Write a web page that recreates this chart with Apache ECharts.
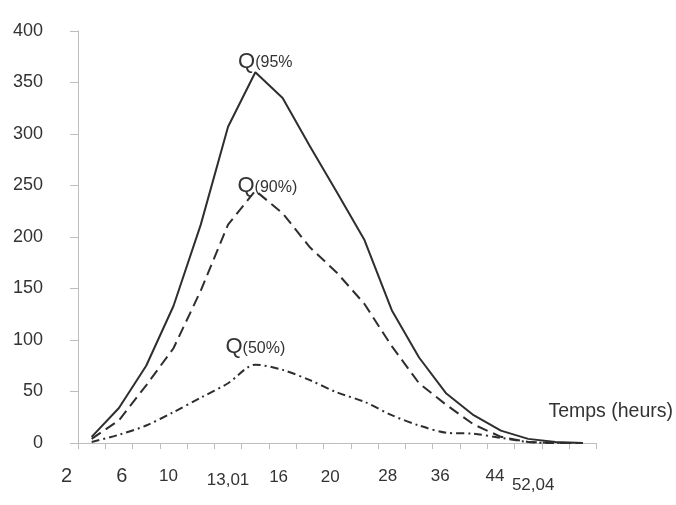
<!DOCTYPE html>
<html>
<head>
<meta charset="utf-8">
<script src="https://cdn.jsdelivr.net/npm/echarts@6/dist/echarts.min.js"></script>
<style>
html,body{margin:0;padding:0;background:#fff;}
#c{width:676px;height:505px;}
</style>
</head>
<body>
<div id="c"></div>
<script>
// Categories (19 time steps) and their tick labels (blank = no label)
var categories = ['c0','c1','c2','c3','c4','c5','c6','c7','c8','c9','c10','c11','c12','c13','c14','c15','c16','c17','c18'];
var xLabels = ['2','6','','10','','13,01','','16','','20','','28','','36','','44','52,04','',''];
var yTicks = [0,50,100,150,200,250,300,350,400];

// Series values
var q95 = [6, 34, 75, 133, 212, 307, 360, 335, 288, 243, 197, 129, 83, 48, 27, 12, 4, 1, 0];
var q90 = [4, 22, 56, 92, 148, 212, 245, 223, 190, 165, 135, 94, 58, 37, 18, 6, 1, 0, 0];
var q50 = [1, 8, 17, 30, 44, 58, 76, 71, 61, 49, 40, 27, 17, 10, 9, 5, 1, 0, 0];
var seriesNames = ['Q(95%)','Q(90%)','Q(50%)'];
var axisName = 'Temps (heurs)';

// label styling per labelled category (position tweaks only)
var labelStyle = {
  '2':    {fontSize:20, padding:[2,50,0,0]},
  '6':    {fontSize:20, padding:[2,0,0,6]},
  '10':   {fontSize:17, padding:[6,10,0,0]},
  '13,01':{fontSize:17, padding:[13,0,0,0]},
  '16':   {fontSize:17, padding:[7,8,0,0]},
  '20':   {fontSize:17, padding:[7,14,0,0]},
  '28':   {fontSize:17, padding:[5,8,0,0]},
  '36':   {fontSize:17, padding:[5,12,0,0]},
  '44':   {fontSize:17, padding:[5,12,0,0]},
  '52,04':{fontSize:17, padding:[24,0,0,10]}
};
var rich = {};
var keys = Object.keys(labelStyle);
keys.forEach(function(k, j){
  var s = labelStyle[k];
  rich['l'+j] = {fontSize:s.fontSize, lineHeight:s.fontSize, padding:s.padding, color:'#333', fontFamily:'Liberation Sans'};
});

var lineColor = '#2e2e2e';
var axisColor = '#bdbdbd';

function peakLabel(q, p, offset, dist){
  return {
    symbol:'circle', symbolSize:1, itemStyle:{color:'rgba(0,0,0,0)'},
    label:{show:true, position:'top', distance:dist, offset:offset,
      formatter:'{q|' + q + '}{p|' + p + '}',
      rich:{q:{fontSize:22, color:'#333', fontFamily:'Liberation Sans', verticalAlign:'bottom'},
            p:{fontSize:16, color:'#333', fontFamily:'Liberation Sans', verticalAlign:'bottom', padding:[0,0,2,0]}}},
    data:[{type:'max'}]
  };
}

var chart = echarts.init(document.getElementById('c'), null, {renderer:'canvas'});
chart.setOption({
  animation:false,
  backgroundColor:'#fff',
  grid:{left:78, right:79, top:31, bottom:62, containLabel:false},
  xAxis:{
    type:'category', data:categories, boundaryGap:true,
    name:axisName, nameLocation:'end', nameGap:-48,
    nameTextStyle:{fontSize:19.5, color:'#333', fontFamily:'Liberation Sans', align:'left', verticalAlign:'bottom', padding:[0,0,21,0]},
    axisLine:{show:true, lineStyle:{color:axisColor, width:1}},
    axisTick:{show:true, inside:false, length:6, interval:0, lineStyle:{color:axisColor}},
    axisLabel:{interval:0, margin:22, rich:rich,
      formatter:function(v, i){
        var t = xLabels[i];
        if(!t) return '';
        return '{l' + keys.indexOf(t) + '|' + t + '}';
      }},
    splitLine:{show:false}
  },
  yAxis:{
    type:'value', min:yTicks[0], max:yTicks[yTicks.length-1], interval:yTicks[1]-yTicks[0],
    axisLine:{show:true, lineStyle:{color:axisColor, width:1}},
    axisTick:{show:true, length:8, lineStyle:{color:axisColor}},
    axisLabel:{margin:35, fontSize:18, color:'#333', fontFamily:'Liberation Sans'},
    splitLine:{show:false}
  },
  series:[
    {name:seriesNames[0], type:'line', data:q95, symbol:'none', smooth:false,
     lineStyle:{color:lineColor, width:2, type:'solid'},
     markPoint:peakLabel('Q','(95%', [10,4], 3)},
    {name:seriesNames[1], type:'line', data:q90, symbol:'none', smooth:false,
     lineStyle:{color:lineColor, width:2, type:[11,6]},
     markPoint:peakLabel('Q','(90%)', [12,7], 0)},
    {name:seriesNames[2], type:'line', data:q50, symbol:'none', smooth:0.3,
     lineStyle:{color:lineColor, width:2, type:[8,4,2,4]},
     markPoint:peakLabel('Q','(50%)', [0,0], 6)}
  ]
});
</script>
</body>
</html>
